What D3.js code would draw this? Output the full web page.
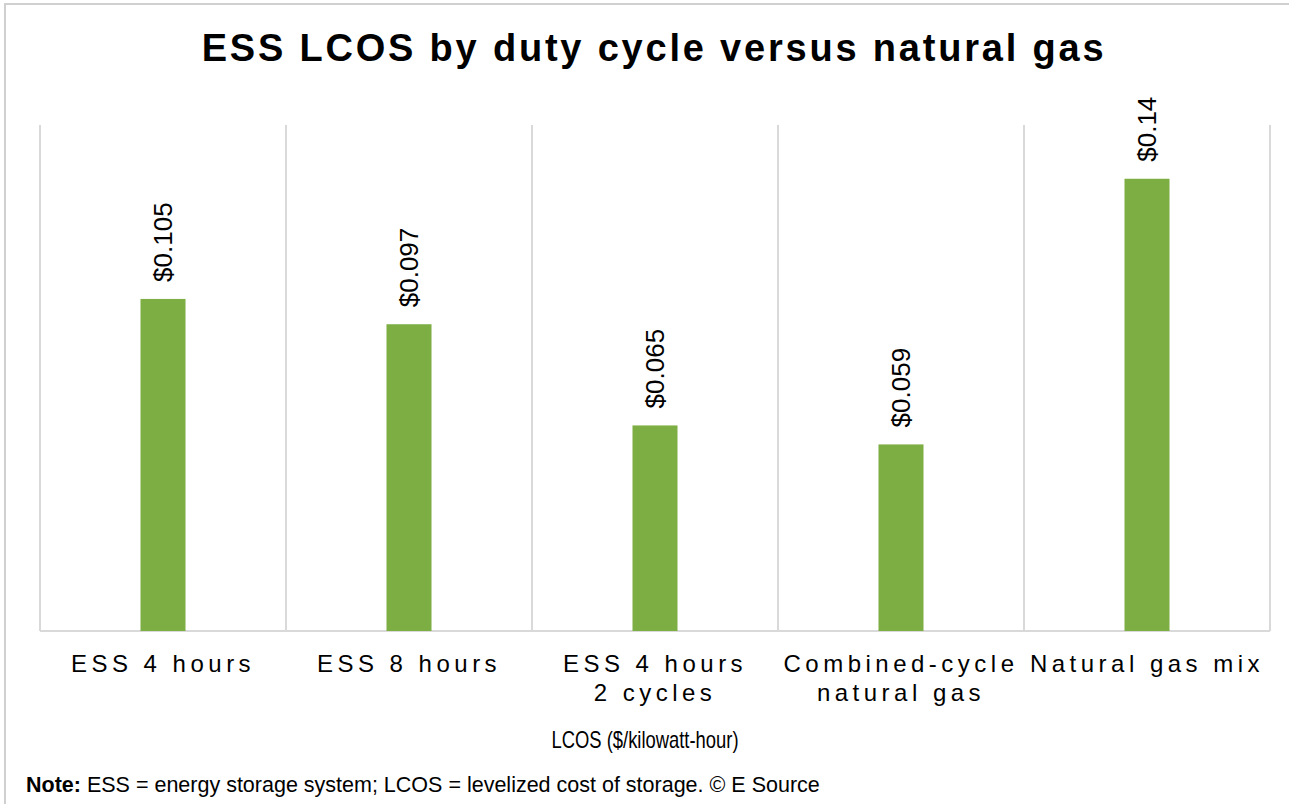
<!DOCTYPE html>
<html lang="en">
<head>
    <meta charset="UTF-8">
    <title>ESS LCOS by duty cycle versus natural gas</title>
    <script src="https://d3js.org/d3.v7.min.js"></script>
    <style>
        body { margin: 0; background: #fff; }
        svg { display: block; }
    </style>
</head>
<body>
    <svg id="chart"></svg>
    <script>
        const width = 1289;
        const height = 804;

        // data (last bar reads ~0.143, labelled $0.14)
        const categories = [["ESS 4 hours"], ["ESS 8 hours"], ["ESS 4 hours", "2 cycles"], ["Combined-cycle", "natural gas"], ["Natural gas mix"]];
        const values = [0.105, 0.097, 0.065, 0.059, 0.143];
        const valueLabels = ["$0.105", "$0.097", "$0.065", "$0.059", "$0.14"];

        const margin = {top: 125, right: 19, bottom: 173, left: 40};

        const svg = d3.select("#chart")
            .attr("width", width)
            .attr("height", height)
            .style("font-family", "'Liberation Sans', Arial, sans-serif");

        // outer frame
        svg.append("rect")
            .attr("x", 5).attr("y", 4)
            .attr("width", width + 10).attr("height", height + 10)
            .attr("fill", "#fff")
            .attr("stroke", "#d0d0d0")
            .attr("stroke-width", 2);

        const x = d3.scaleBand()
            .domain(d3.range(categories.length))
            .range([margin.left, width - margin.right]);

        const y = d3.scaleLinear()
            .domain([0, 0.16])
            .range([height - margin.bottom, margin.top]);

        // vertical gridlines at category boundaries
        const bounds = d3.range(categories.length + 1).map(i => margin.left + i * x.step());
        svg.append("g")
            .selectAll("line")
            .data(bounds)
            .join("line")
            .attr("x1", d => d).attr("x2", d => d)
            .attr("y1", margin.top).attr("y2", height - margin.bottom)
            .attr("stroke", "#d9d9d9")
            .attr("stroke-width", 2);

        // baseline
        svg.append("line")
            .attr("x1", margin.left).attr("x2", width - margin.right)
            .attr("y1", y(0)).attr("y2", y(0))
            .attr("stroke", "#d9d9d9")
            .attr("stroke-width", 2);

        const barW = 45;
        svg.append("g")
            .selectAll("rect")
            .data(values)
            .join("rect")
            .attr("x", (d, i) => x(i) + x.bandwidth() / 2 - barW / 2)
            .attr("y", d => y(d))
            .attr("width", barW)
            .attr("height", d => y(0) - y(d))
            .attr("fill", "#7cae43");

        // value labels, rotated
        svg.append("g")
            .selectAll("text")
            .data(values)
            .join("text")
            .attr("transform", (d, i) => `translate(${x(i) + x.bandwidth() / 2 + 9},${y(d) - 17}) rotate(-90)`)
            .attr("font-size", 26)
            .attr("fill", "#000")
            .text((d, i) => valueLabels[i]);

        // category labels
        const cat = svg.append("g")
            .selectAll("text")
            .data(categories)
            .join("text")
            .attr("x", (d, i) => x(i) + x.bandwidth() / 2)
            .attr("y", 672)
            .attr("text-anchor", "middle")
            .attr("font-size", 24)
            .attr("letter-spacing", 4.5)
            .attr("fill", "#000");
        cat.selectAll("tspan")
            .data(d => d)
            .join("tspan")
            .attr("x", function() { return this.parentNode.getAttribute("x"); })
            .attr("dy", (d, i) => i === 0 ? 0 : 29)
            .text(d => d);

        // title
        svg.append("text")
            .attr("x", 654)
            .attr("y", 61)
            .attr("text-anchor", "middle")
            .attr("font-size", 38)
            .attr("font-weight", "bold")
            .attr("letter-spacing", 2.8)
            .text("ESS LCOS by duty cycle versus natural gas");

        // axis title (condensed in the original)
        svg.append("text")
            .attr("transform", "translate(645,748) scale(0.8,1)")
            .attr("text-anchor", "middle")
            .attr("font-size", 23)
            .text("LCOS ($/kilowatt-hour)");

        // note
        const note = svg.append("text")
            .attr("x", 26)
            .attr("y", 792)
            .attr("font-size", 21.5)
            .attr("fill", "#000");
        note.append("tspan").attr("font-weight", "bold").text("Note:");
        note.append("tspan").text(" ESS = energy storage system; LCOS = levelized cost of storage. \u00A9 E Source");
    </script>
</body>
</html>
